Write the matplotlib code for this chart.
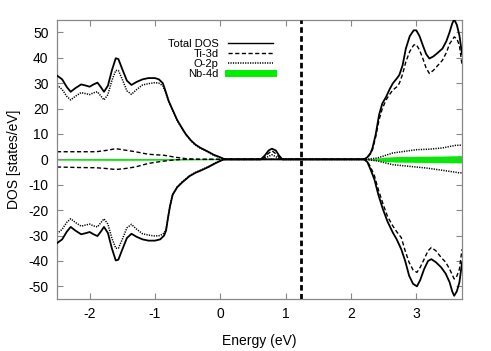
import matplotlib
matplotlib.use("Agg")
import matplotlib.pyplot as plt
from matplotlib.lines import Line2D
import numpy as np

plt.rcParams['font.family'] = ['Liberation Sans', 'DejaVu Sans']
plt.rcParams['axes.unicode_minus'] = False

# ---------------- data ----------------
# Total DOS, spin up
tot_up_e = [-2.50, -2.42, -2.35, -2.29, -2.22, -2.13, -2.05, -2.00, -1.94, -1.88, -1.83, -1.78, -1.72,
            -1.66, -1.60, -1.56, -1.50, -1.43, -1.36, -1.28, -1.19, -1.10, -1.00, -0.94, -0.88, -0.84,
            -0.79, -0.73, -0.66, -0.60, -0.53, -0.45, -0.38, -0.30, -0.20, -0.10, 0.00, 0.05, 0.10,
            0.62, 0.68, 0.74, 0.79, 0.85, 0.90, 0.95,
            2.20, 2.25, 2.30, 2.33, 2.38, 2.43, 2.48, 2.54, 2.59, 2.64, 2.70, 2.74, 2.79, 2.84, 2.90,
            2.96, 3.00, 3.05, 3.10, 3.15, 3.20, 3.26, 3.33, 3.40, 3.46, 3.51, 3.55, 3.58, 3.62, 3.66, 3.70]
tot_up_v = [33.0, 31.5, 28.5, 26.6, 28.0, 29.5, 29.0, 28.6, 29.5, 30.2, 28.5, 26.6, 29.0,
            35.0, 39.8, 39.5, 35.5, 31.0, 29.3, 30.5, 31.5, 32.0, 32.0, 31.5, 30.0, 27.0,
            23.0, 19.5, 15.5, 12.9, 10.0, 7.5, 5.8, 4.5, 3.2, 1.8, 0.8, 0.2, 0.0,
            0.0, 1.5, 3.5, 4.2, 3.5, 1.5, 0.0,
            0.0, 0.8, 2.5, 4.5, 10.0, 17.5, 22.0, 24.7, 27.5, 29.9, 31.8, 33.2, 37.0, 43.6, 48.5,
            50.8, 50.8, 48.5, 44.9, 41.5, 39.7, 40.5, 42.0, 43.6, 46.5, 50.1, 53.5, 55.1, 53.0, 48.8, 41.4]

# Total DOS, spin down
tot_dn_e = [-2.50, -2.42, -2.35, -2.29, -2.22, -2.13, -2.05, -2.00, -1.94, -1.88, -1.83, -1.78, -1.72,
            -1.66, -1.60, -1.56, -1.50, -1.43, -1.36, -1.28, -1.19, -1.10, -1.00, -0.92, -0.86, -0.83,
            -0.80, -0.77, -0.73, -0.66, -0.58, -0.47, -0.38, -0.28, -0.18, -0.08, 0.00, 0.05, 0.10,
            2.20, 2.25, 2.30, 2.36, 2.42, 2.49, 2.56, 2.64, 2.70, 2.77, 2.83, 2.89, 2.95, 3.01, 3.06,
            3.12, 3.18, 3.23, 3.30, 3.38, 3.45, 3.51, 3.55, 3.58, 3.62, 3.66, 3.70]
tot_dn_v = [-33.0, -31.5, -28.5, -26.6, -28.0, -29.5, -29.0, -28.6, -29.5, -30.2, -28.5, -26.6, -29.0,
            -35.0, -39.8, -39.5, -35.5, -31.0, -29.3, -30.5, -31.5, -32.0, -32.0, -31.5, -30.0, -28.0,
            -23.0, -18.5, -14.0, -11.0, -9.0, -6.6, -5.3, -4.2, -3.0, -1.6, -0.6, -0.1, 0.0,
            0.0, -1.0, -4.0, -8.0, -14.0, -19.7, -24.5, -28.8, -31.5, -35.4, -40.0, -45.8, -49.0, -50.0, -47.5,
            -43.2, -40.0, -39.3, -40.5, -42.5, -45.0, -48.4, -52.0, -53.7, -52.0, -48.4, -40.6]

# Ti-3d, spin up
ti_up_e = [-2.50, -2.20, -1.90, -1.75, -1.60, -1.45, -1.30, -1.10, -0.86, -0.68, -0.50, -0.30,
           0.65, 0.72, 0.79, 0.86, 0.93,
           2.20, 2.25, 2.30, 2.33, 2.38, 2.43, 2.48, 2.54, 2.59, 2.64, 2.70, 2.74, 2.79, 2.84, 2.90,
           2.96, 3.00, 3.05, 3.10, 3.15, 3.20, 3.26, 3.33, 3.40, 3.46, 3.51, 3.58, 3.62, 3.66, 3.70]
ti_up_v = [3.0, 3.0, 3.0, 3.5, 4.2, 3.6, 3.0, 2.0, 1.6, 0.8, 0.2, 0.0,
           0.0, 2.0, 3.4, 2.0, 0.0,
           0.0, 0.6, 2.2, 3.8, 9.0, 15.5, 20.0, 23.5, 25.5, 27.3, 28.5, 29.9, 33.5, 38.4, 42.5,
           45.0, 45.2, 43.0, 39.7, 36.0, 33.8, 35.0, 37.0, 39.0, 42.0, 45.5, 48.2, 47.5, 44.9, 37.1]

# Ti-3d, spin down
ti_dn_e = [-2.50, -2.20, -1.90, -1.75, -1.60, -1.45, -1.30, -1.10, -0.90, -0.70, -0.55,
           2.20, 2.25, 2.30, 2.36, 2.42, 2.49, 2.56, 2.64, 2.70, 2.77, 2.83, 2.89, 2.95, 3.01, 3.06,
           3.12, 3.18, 3.23, 3.30, 3.38, 3.45, 3.51, 3.58, 3.62, 3.66, 3.70]
ti_dn_v = [-3.0, -3.2, -3.3, -3.6, -4.0, -3.6, -3.0, -1.6, -0.8, -0.2, 0.0,
           0.0, -0.8, -3.0, -6.5, -12.0, -17.5, -22.5, -26.2, -28.5, -30.8, -36.0, -40.6, -43.5, -44.5, -42.5,
           -39.3, -36.0, -34.7, -36.0, -38.6, -40.5, -43.2, -47.1, -46.0, -43.2, -35.4]

# O-2p, spin up
o_up_e = [-2.50, -2.42, -2.35, -2.29, -2.22, -2.13, -2.05, -2.00, -1.94, -1.88, -1.83, -1.78, -1.72,
          -1.66, -1.60, -1.56, -1.50, -1.43, -1.36, -1.28, -1.19, -1.10, -1.00, -0.94, -0.88, -0.84,
          -0.79, -0.73, -0.66, -0.60, -0.53, -0.45, -0.38, -0.30, -0.20, -0.10, 0.00, 0.05, 0.10,
          0.65, 0.74, 0.79, 0.84, 0.93,
          2.20, 2.40, 2.64, 3.00, 3.20, 3.40, 3.60, 3.70]
o_up_v = [29.3, 27.5, 24.8, 23.4, 24.8, 26.3, 25.8, 25.5, 26.2, 26.6, 25.0, 23.4, 25.5,
          31.0, 35.0, 35.0, 31.5, 27.0, 25.6, 27.5, 29.3, 29.8, 30.2, 30.0, 29.0, 26.5,
          22.8, 19.3, 15.3, 12.7, 9.8, 7.3, 5.6, 4.3, 3.0, 1.6, 0.7, 0.2, 0.0,
          0.0, 1.2, 1.8, 1.2, 0.0,
          0.0, 0.5, 2.5, 3.8, 4.0, 4.5, 5.5, 5.6]

# O-2p, spin down
o_dn_e = [-2.50, -2.42, -2.35, -2.29, -2.22, -2.13, -2.05, -2.00, -1.94, -1.88, -1.83, -1.78, -1.72,
          -1.66, -1.60, -1.56, -1.50, -1.43, -1.36, -1.28, -1.19, -1.10, -1.00, -0.92, -0.86, -0.83,
          -0.80, -0.77, -0.73, -0.66, -0.58, -0.47, -0.38, -0.28, -0.18, -0.08, 0.00, 0.05, 0.10,
          2.20, 2.40, 2.64, 3.15, 3.40, 3.66, 3.70]
o_dn_v = [-29.3, -27.5, -24.8, -23.4, -24.8, -26.3, -25.8, -25.5, -26.2, -26.6, -25.0, -23.4, -25.5,
          -31.0, -35.0, -35.0, -31.5, -27.0, -25.6, -27.5, -29.3, -29.8, -30.2, -30.0, -29.0, -27.5,
          -22.8, -18.3, -13.8, -10.8, -8.8, -6.4, -5.1, -4.0, -2.8, -1.4, -0.5, -0.1, 0.0,
          0.0, -0.6, -2.1, -3.4, -4.3, -5.3, -5.3]

# Nb-4d (up / down)
nb_e = [-2.50, -1.60, -0.80, 0.00, 0.10, 2.20, 2.30, 2.43, 2.54, 2.70, 3.00, 3.40, 3.70]
nb_up_v = [0.3, 0.4, 0.3, 0.1, 0.0, 0.0, 0.3, 0.6, 0.9, 1.1, 1.2, 1.3, 1.5]
nb_dn_v = [-0.3, -0.4, -0.3, -0.1, 0.0, 0.0, -0.3, -0.6, -0.9, -1.1, -1.2, -1.3, -1.4]

fermi_e = 1.24
labels = ['Total DOS', 'Ti-3d', 'O-2p', 'Nb-4d']
x_ticks = [-2, -1, 0, 1, 2, 3]
y_ticks = [-50, -40, -30, -20, -10, 0, 10, 20, 30, 40, 50]

# ---------------- plot ----------------
fig = plt.figure(figsize=(4.91, 3.51), dpi=100)
ax = fig.add_axes([0.116, 0.148, 0.825, 0.796])

green = '#00ee00'
ax.fill_between(nb_e, nb_dn_v, nb_up_v, color=green, lw=0, zorder=1)
ax.plot(nb_e, np.zeros(len(nb_e)), color='#33cc33', lw=0.8, zorder=1)

dash_ti = (0, (3, 1.8))
dot_o = (0, (0.8, 0.8))
ax.plot(ti_up_e, ti_up_v, color='black', lw=1.0, linestyle=dash_ti, zorder=2)
ax.plot(ti_dn_e, ti_dn_v, color='black', lw=1.0, linestyle=dash_ti, zorder=2)
ax.plot(o_up_e, o_up_v, color='black', lw=1.1, linestyle=dot_o, zorder=2)
ax.plot(o_dn_e, o_dn_v, color='black', lw=1.1, linestyle=dot_o, zorder=2)
ax.plot(tot_up_e, tot_up_v, color='black', lw=1.3, zorder=3)
ax.plot(tot_dn_e, tot_dn_v, color='black', lw=1.3, zorder=3)

ax.axvline(fermi_e, color='black', lw=2.0, linestyle=(0, (2.0, 1.2)), zorder=4)

ax.set_xlim(-2.5, 3.7)
ax.set_ylim(-55, 55)
ax.set_xticks(x_ticks)
ax.set_yticks(y_ticks)
ax.tick_params(direction='in', length=4, width=0.8, color='#888888', top=True, right=True,
               labelsize=10, pad=6)
for sp in ax.spines.values():
    sp.set_color('#888888')
    sp.set_linewidth(0.9)

ax.set_xlabel('Energy (eV)', fontsize=10, labelpad=9)
ax.set_ylabel('DOS [states/eV]', fontsize=10, labelpad=5)

handles = [Line2D([], [], color='black', lw=1.0),
           Line2D([], [], color='black', lw=1.0, linestyle=dash_ti),
           Line2D([], [], color='black', lw=1.1, linestyle=dot_o),
           Line2D([], [], color=green, lw=5)]
ax.legend(handles, labels, loc='upper right', bbox_to_anchor=(0.533, 0.93), frameon=False,
          markerfirst=False, fontsize=8, handlelength=4.0, handletextpad=0.9,
          labelspacing=0.0, borderpad=0, borderaxespad=0)

fig.savefig('out.png', dpi=100)
